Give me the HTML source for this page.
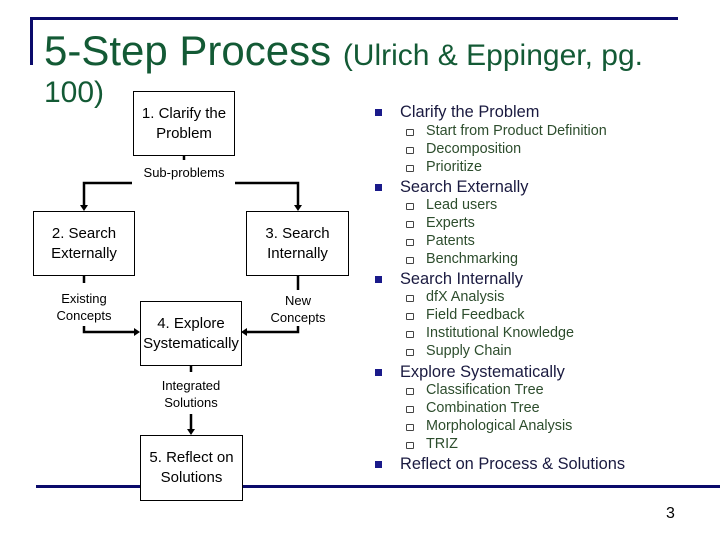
<!DOCTYPE html>
<html><head><style>
body{margin:0;width:720px;height:540px;background:#fff;position:relative;overflow:hidden;font-family:"Liberation Sans",sans-serif}
.a{position:absolute;white-space:nowrap}
.box{position:absolute;border:1.3px solid #000;background:#fff;box-sizing:border-box;display:flex;align-items:center;justify-content:center;text-align:center;font-size:15px;line-height:20px;color:#000}
.lbl{position:absolute;font-size:13px;line-height:17px;text-align:center;color:#000;background:#fff}
.m{position:absolute;left:400px;font-size:16.4px;color:#1a1a40;line-height:18px}
.m:before{content:"";position:absolute;left:-25px;top:6px;width:7px;height:7px;background:#1a1a8a}
.s{position:absolute;left:426px;font-size:14.4px;color:#2d4d2d;line-height:18px}
.s:before{content:"";position:absolute;left:-20px;top:7px;width:6px;height:5px;border:1px solid #444;border-radius:1px}
</style></head><body>
<div class="a" style="left:30px;top:17px;width:648px;height:3px;background:#0b0b6b"></div>
<div class="a" style="left:30px;top:17px;width:3px;height:48px;background:#0b0b6b"></div>
<div class="a" style="left:36px;top:485px;width:684px;height:3px;background:#0b0b6b"></div>
<div class="a" style="left:44px;top:27px;font-size:42px;color:#135a35;line-height:48px">5-Step Process <span style="font-size:30px">(Ulrich &amp; Eppinger, pg.</span></div>
<div class="a" style="left:44px;top:76px;font-size:30px;color:#135a35;line-height:34px">100)</div>
<svg class="a" style="left:0;top:0" width="720" height="540">
<g stroke="#000" stroke-width="2.5" fill="none">
<path d="M184 155V160"/>
<path d="M132 183H84V205M235 183H298V205"/>
<path d="M84 276V283M84 326V332H134"/>
<path d="M298 276V290M298 326V332H247"/>
<path d="M191 365V372M191 414V429"/>
</g>
<g fill="#000">
<path d="M80 205H88L84 211Z"/><path d="M294 205H302L298 211Z"/>
<path d="M134 328V336L140 332Z"/><path d="M247 328V336L241 332Z"/>
<path d="M187 429H195L191 435Z"/>
</g>
</svg>
<div class="box" style="left:133px;top:91px;width:102px;height:65px">1. Clarify the<br>Problem</div>
<div class="lbl" style="left:134px;top:164px;width:100px">Sub-problems</div>
<div class="box" style="left:33px;top:211px;width:102px;height:65px">2. Search<br>Externally</div>
<div class="box" style="left:246px;top:211px;width:103px;height:65px">3. Search<br>Internally</div>
<div class="lbl" style="left:44px;top:290px;width:80px;background:none">Existing<br>Concepts</div>
<div class="lbl" style="left:258px;top:292px;width:80px;background:none">New<br>Concepts</div>
<div class="box" style="left:140px;top:301px;width:102px;height:65px">4. Explore<br>Systematically</div>
<div class="lbl" style="left:141px;top:377px;width:100px">Integrated<br>Solutions</div>
<div class="box" style="left:140px;top:435px;width:103px;height:66px">5. Reflect on<br>Solutions</div>
<div class="m" style="top:103px">Clarify the Problem</div>
<div class="s" style="top:122px">Start from Product Definition</div>
<div class="s" style="top:140px">Decomposition</div>
<div class="s" style="top:158px">Prioritize</div>
<div class="m" style="top:178px">Search Externally</div>
<div class="s" style="top:196px">Lead users</div>
<div class="s" style="top:214px">Experts</div>
<div class="s" style="top:232px">Patents</div>
<div class="s" style="top:250px">Benchmarking</div>
<div class="m" style="top:270px">Search Internally</div>
<div class="s" style="top:288px">dfX Analysis</div>
<div class="s" style="top:306px">Field Feedback</div>
<div class="s" style="top:324px">Institutional Knowledge</div>
<div class="s" style="top:342px">Supply Chain</div>
<div class="m" style="top:363px">Explore Systematically</div>
<div class="s" style="top:381px">Classification Tree</div>
<div class="s" style="top:399px">Combination Tree</div>
<div class="s" style="top:417px">Morphological Analysis</div>
<div class="s" style="top:435px">TRIZ</div>
<div class="m" style="top:455px">Reflect on Process &amp; Solutions</div>
<div class="a" style="left:666px;top:505px;font-size:16px;color:#000">3</div>
</body></html>
